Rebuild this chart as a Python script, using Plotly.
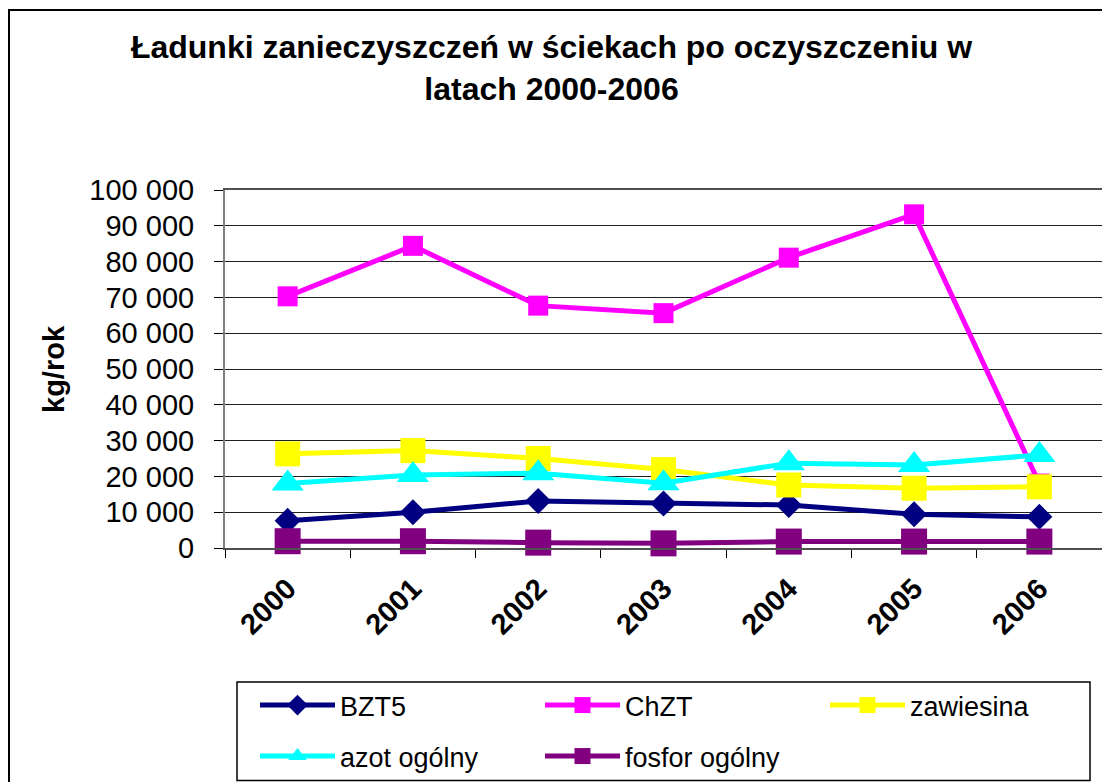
import plotly.graph_objects as go

years = ["2000", "2001", "2002", "2003", "2004", "2005", "2006"]
bzt5 = [7600, 10000, 13100, 12400, 12000, 9400, 8700]
chzt = [70300, 84400, 67700, 65600, 81100, 93200, 18000]
zawiesina = [26300, 27200, 25000, 21900, 17600, 16700, 17100]
azot = [18000, 20400, 20900, 18100, 23700, 23200, 26000]
fosfor = [1900, 1900, 1500, 1300, 1800, 1800, 1800]

y_ticks = [0, 10000, 20000, 30000, 40000, 50000, 60000, 70000, 80000, 90000, 100000]

# page body has an 8px margin: figure pixel = screen pixel - 8
OFF = 8
W, H = 1110 - OFF, 782 - OFF
L, R, T, B = 225 - OFF, 8, 190 - OFF, 234
PW, PH = W - L - R, H - T - B


def px_x(s):
    return (s - OFF - L) / PW


def px_y(s):
    return (H - B - (s - OFF)) / PH


FONT = "Liberation Sans, Arial, sans-serif"

series = [
    ("BZT5", bzt5, "#000080", "diamond", 20, "legend"),
    ("ChZT", chzt, "#FF00FF", "square", 20, "legend"),
    ("zawiesina", zawiesina, "#FFFF00", "square", 25, "legend"),
    ("azot ogólny", azot, "#00FFFF", "triangle-up", 28, "legend2"),
    ("fosfor ogólny", fosfor, "#800080", "square", 26, "legend2"),
]

fig = go.Figure()
for name, vals, col, sym, size, leg in series:
    fig.add_trace(go.Scatter(
        x=years, y=vals, name=name, mode="lines+markers",
        line=dict(color=col, width=5),
        marker=dict(symbol=sym, size=size, color=col, line=dict(width=0)),
        cliponaxis=False, legend=leg,
    ))

ITEMW = 75
ENTRYW = 195
legend_common = dict(
    orientation="h", xanchor="left", yanchor="top",
    font=dict(family=FONT, size=27, color="black"),
    bgcolor="rgba(0,0,0,0)", borderwidth=0,
    itemwidth=ITEMW, entrywidth=ENTRYW, entrywidthmode="pixels",
    traceorder="normal",
)

fig.update_layout(
    width=W, height=H,
    margin=dict(l=L, r=R, t=T, b=B, autoexpand=False),
    paper_bgcolor="white", plot_bgcolor="white",
    separators=", ",
    font=dict(family=FONT, color="black"),
    title=dict(
        text="Ładunki zanieczyszczeń w ściekach po oczyszczeniu w<br>latach 2000-2006",
        font=dict(family=FONT, size=32, color="black", weight="bold"),
        x=(551.5 - OFF) / W, xanchor="center", xref="container",
        y=1 - 50 / H, yanchor="top", yref="container",
    ),
    showlegend=True,
    legend=dict(x=px_x(255), y=px_y(681), **legend_common),
    legend2=dict(x=px_x(255), y=px_y(732), **legend_common),
    xaxis=dict(
        type="category", range=[-0.5, 6.5],
        tickangle=-45, ticks="outside", ticklen=8, tickwidth=1, tickcolor="black",
        tickson="boundaries",
        tickfont=dict(family=FONT, size=29, color="black", weight="bold"),
        ticklabelstandoff=10,
        showline=True, linecolor="#505050", linewidth=2, mirror=True,
        showgrid=False, zeroline=False, fixedrange=True,
    ),
    yaxis=dict(
        range=[0, 100000], tickvals=y_ticks, tickformat=",d",
        ticks="outside", ticklen=9, tickwidth=1, tickcolor="black",
        tickfont=dict(family=FONT, size=29, color="black"),
        ticklabelstandoff=14,
        showline=True, linecolor="#808080", linewidth=2, mirror=True,
        showgrid=True, gridcolor="#202020", gridwidth=1.4,
        zeroline=False, fixedrange=True,
    ),
    annotations=[dict(
        text="kg/rok", textangle=-90, showarrow=False,
        xref="paper", yref="paper", x=px_x(54), y=0.5,
        xanchor="center", yanchor="middle",
        font=dict(family=FONT, size=29, color="black", weight="bold"),
    )],
    shapes=[
        dict(type="rect", xref="paper", yref="paper",
             x0=px_x(9), x1=px_x(1130), y0=px_y(10), y1=px_y(800),
             line=dict(color="black", width=2), layer="below"),
        dict(type="rect", xref="paper", yref="paper",
             x0=px_x(237), x1=px_x(1090), y0=px_y(682), y1=px_y(780.5),
             line=dict(color="black", width=1.5), layer="above"),
    ],
)

fig.write_html("out.html")
